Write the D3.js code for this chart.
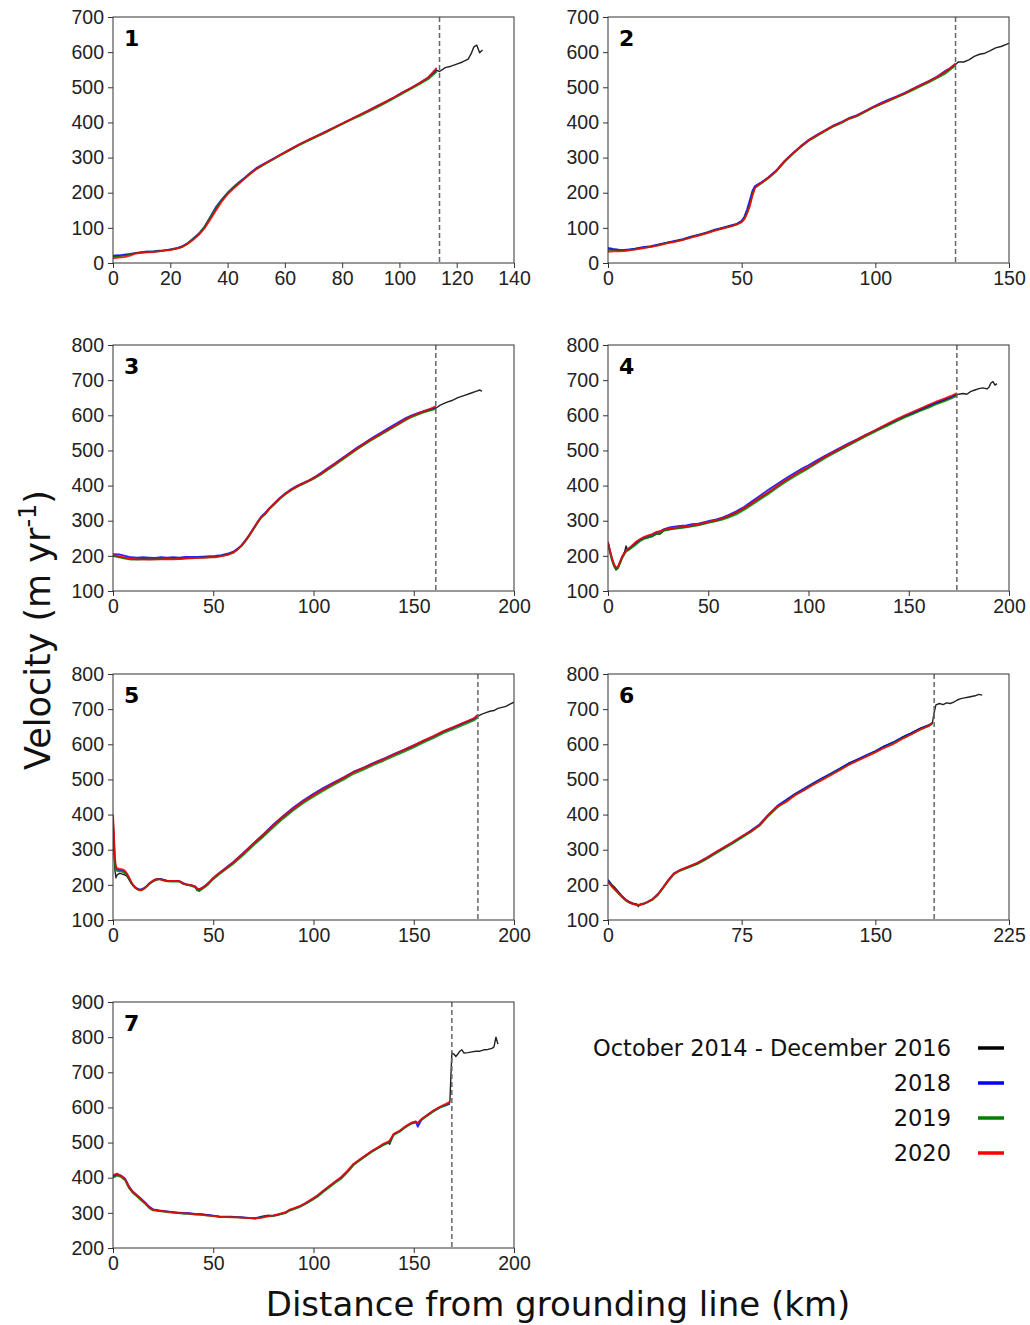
<!DOCTYPE html>
<html>
<head>
<meta charset="utf-8">
<script src="https://d3js.org/d3.v7.min.js"></script>
<style>
  body { margin: 0; background: #fff; }
  svg { font-family: "DejaVu Sans", sans-serif; }
  .tick text { font-size: 19.5px; fill: #222; }
  .tick line { stroke: #333; }
</style>
</head>
<body>
<svg id="chart" width="1030" height="1325"></svg>
<script>
// ---- data (km from grounding line, velocity m/yr) ----
var seriesNames = ["October 2014 - December 2016", "2018", "2019", "2020"];
var seriesColors = ["#222222", "#0000ff", "#008000", "#ff0000"];

var xMax = [140, 150, 200, 200, 200, 225, 200];
var xStep = [20, 50, 50, 50, 50, 75, 50];
var yDomains = [[0, 700], [0, 700], [100, 800], [100, 800], [100, 800], [100, 800], [200, 900]];
var markerKm = [114, 130, 161, 174, 182, 183, 169];

// panel 1
var km1 = [0,2,4,6,8,10,12,14,16,18,20,22,24,26,28,30,32,34,36,38,40,42,44,46,48,50,53,56,59,62,65,68,71,74,77,80,83,86,89,92,95,98,101,104,107,110,113];
var black1 = [18,20,22,25,28,30,31,32,34,36,38,41,46,55,68,82,102,128,155,178,198,214,228,242,256,268,282,296,310,323,336,348,360,371,384,396,408,420,432,445,457,470,484,497,511,526,548];
var blue1 = [21,22,24,26,29,31,33,32,35,36,39,42,47,56,70,84,104,132,160,181,200,216,230,243,257,270,284,297,311,324,338,349,361,373,385,397,409,421,433,446,458,471,485,498,512,528,552];
var green1 = [17,19,21,24,28,30,31,33,33,36,38,41,45,55,69,83,103,130,157,180,199,215,229,241,255,267,281,295,309,322,335,347,359,370,383,395,407,418,430,442,455,468,482,495,509,523,544];
var red1 = [13,15,17,21,27,29,30,31,33,35,37,40,45,54,66,80,99,124,150,175,195,211,225,240,254,267,283,296,310,324,337,350,361,372,385,397,409,421,433,446,458,471,485,498,512,527,555];
var extKm1 = [114,116,118,120,122,124,125,126,127,128,129];
var extBlack1 = [545,556,560,566,572,580,595,615,620,598,606];

// panel 2
var km2 = [0,2,4,6,8,10,13,16,19,22,25,28,31,34,37,40,43,46,48,50,51,52,53,54,55,57,60,63,66,69,72,75,78,81,84,87,90,93,96,99,102,105,108,111,114,117,120,123,126,128,130];
var black2 = [40,38,36,36,38,40,44,47,52,58,62,67,74,80,86,94,100,106,110,118,128,145,168,198,216,226,242,262,288,310,330,348,362,375,388,398,410,418,430,442,452,462,472,482,494,505,516,528,542,552,565];
var blue2 = [43,40,38,37,39,41,45,48,53,58,63,68,75,81,87,95,101,107,111,120,132,152,178,205,219,228,244,264,290,312,332,350,364,377,390,400,412,420,432,444,455,465,474,484,496,507,518,530,546,554,566];
var green2 = [37,36,35,35,37,39,43,46,51,57,61,66,73,79,85,93,99,105,109,117,127,142,165,195,214,225,241,261,287,309,329,347,361,374,387,397,409,417,429,441,451,461,471,481,492,503,514,526,538,550,562];
var red2 = [32,33,33,34,36,38,42,46,50,56,60,66,72,78,85,92,98,104,109,116,124,140,160,190,214,226,243,263,290,311,331,349,363,376,389,399,411,419,431,443,453,463,473,483,495,506,517,529,544,555,568];
var extKm2 = [131,133,135,137,139,141,143,145,147,149,150];
var extBlack2 = [572,572,578,588,594,597,604,612,616,622,625];

// panel 3
var km3 = [0,3,6,9,12,15,18,21,24,27,30,33,36,39,42,45,48,51,54,57,60,62,64,66,68,70,72,74,76,78,80,83,86,89,92,95,98,101,104,107,110,113,116,119,122,125,128,131,134,137,140,143,146,149,152,155,158,161];
var black3 = [200,197,194,190,191,192,191,191,192,192,193,192,194,195,195,196,197,198,200,204,210,218,228,242,258,276,294,310,320,334,345,362,376,388,398,406,414,424,434,446,458,470,482,494,506,517,528,538,548,558,568,578,588,597,604,610,615,620];
var blue3 = [205,204,200,196,195,196,195,194,196,195,196,195,197,197,197,198,199,200,202,206,212,220,230,244,260,278,296,312,323,336,347,364,378,390,400,408,416,426,437,449,461,473,485,497,509,520,531,542,552,562,572,582,592,600,606,612,617,622];
var green3 = [199,196,192,189,189,190,190,190,191,191,192,191,193,194,194,195,196,197,199,203,209,217,227,241,257,275,293,309,319,333,344,361,375,387,397,405,413,422,432,444,456,468,480,492,504,515,526,536,546,556,566,576,586,595,602,608,613,618];
var red3 = [203,199,195,192,190,190,189,190,190,191,190,191,192,193,194,194,196,196,199,203,209,218,229,243,259,277,295,311,321,335,346,363,377,389,399,407,415,425,435,447,459,471,483,495,507,518,529,539,549,559,569,579,589,598,605,612,618,626];
var extKm3 = [163,166,169,172,175,178,181,183,184];
var extBlack3 = [628,636,642,650,656,662,668,672,668];

// panel 4
var km4 = [0,1,2,3,4,5,6,7,8,9,10,12,14,16,18,20,22,24,26,28,30,33,36,39,42,45,48,51,54,57,60,64,68,72,76,80,84,88,92,96,100,104,108,112,116,120,124,128,132,136,140,144,148,152,156,160,164,168,171,174];
var black4 = [238,212,190,172,160,165,180,195,205,228,215,225,235,245,250,252,255,262,262,272,275,278,280,282,285,288,292,296,300,305,312,322,335,350,365,380,396,412,426,440,452,466,480,492,504,516,528,540,552,563,574,585,596,605,615,625,635,643,650,658];
var blue4 = [236,215,192,175,165,168,182,196,208,215,218,228,238,246,252,256,260,266,270,276,280,283,285,287,290,292,296,300,304,309,316,327,340,356,372,388,403,418,432,446,458,471,484,496,508,520,531,543,554,565,576,587,598,608,618,628,637,646,652,660];
var green4 = [234,208,186,170,162,166,178,192,202,212,216,224,232,242,248,252,256,262,266,272,274,277,279,281,284,287,291,295,299,303,309,318,331,346,361,376,392,408,422,436,449,463,477,490,502,514,526,538,550,561,572,583,594,603,613,622,632,640,647,655];
var red4 = [240,214,193,176,166,170,184,198,206,214,220,230,240,248,254,258,262,268,270,275,278,280,282,284,287,290,294,298,302,307,314,324,337,352,367,382,398,413,427,441,453,467,481,494,506,518,530,542,554,566,578,589,600,610,620,630,640,648,655,663];
var extKm4 = [175,177,179,181,183,185,187,189,190,191,192,193,194];
var extBlack4 = [660,662,660,668,672,676,678,675,680,692,696,686,690];

// panel 5
var km5 = [0,0.5,1,1.5,2,3,4,5,6,7,8,9,10,11,12,13,14,15,16,17,18,19,20,21,22,23,24,25,27,29,31,33,35,37,39,41,42,43,44,46,48,50,53,56,60,65,70,75,80,85,90,95,100,105,110,115,120,125,130,135,140,145,150,155,160,165,170,175,180,182];
var black5 = [395,300,240,220,228,232,232,230,228,224,215,205,198,192,188,186,186,188,192,196,202,206,210,213,215,216,216,214,211,210,210,210,203,200,198,194,186,184,188,196,206,218,232,245,262,288,315,340,368,393,415,437,455,472,488,503,520,532,545,557,570,582,595,609,622,636,648,660,672,680];
var blue5 = [380,320,262,248,244,242,242,240,236,230,220,208,200,194,190,188,187,189,193,198,204,208,212,215,217,217,217,215,212,211,211,211,205,201,199,196,190,188,190,198,208,220,234,247,265,291,318,344,372,397,420,441,459,476,491,506,522,534,547,559,572,584,597,610,623,637,649,661,673,681];
var green5 = [385,310,255,242,240,238,238,236,233,228,218,206,198,192,188,185,184,187,191,196,202,206,210,213,215,216,215,213,210,209,209,209,203,200,197,193,184,182,186,194,204,216,230,243,260,285,312,337,364,389,412,433,451,468,484,499,516,528,541,553,566,578,591,605,618,632,644,656,668,676];
var red5 = [400,340,275,252,248,246,245,244,240,232,222,210,200,193,188,185,185,187,192,197,203,208,212,215,216,216,215,213,211,211,211,211,204,200,199,195,189,188,190,197,207,220,234,246,264,290,317,343,370,395,417,438,456,473,489,505,521,533,546,558,571,584,597,611,624,638,650,662,674,684];
var extKm5 = [184,186,188,190,192,194,196,198,200];
var extBlack5 = [686,690,694,696,702,705,708,714,720];

// panel 6
var km6 = [0,2,4,6,8,10,12,14,16,17,18,20,22,25,28,31,34,37,40,45,50,55,60,65,70,75,80,85,90,95,100,105,110,115,120,125,130,135,140,145,150,155,160,165,170,175,180,182];
var black6 = [215,202,192,180,168,158,152,148,146,138,145,146,150,158,172,192,214,232,240,250,260,274,290,305,320,336,352,370,398,422,440,458,472,488,502,516,530,546,556,568,580,595,605,620,632,645,655,660];
var blue6 = [212,198,188,176,166,157,150,146,144,142,144,147,151,160,174,194,215,233,241,251,262,276,291,306,321,337,354,372,400,425,442,459,474,489,503,517,531,545,557,569,581,594,606,619,631,644,654,660];
var green6 = [210,197,186,175,164,155,149,145,144,144,143,146,150,158,171,191,212,230,239,249,259,272,288,303,318,334,350,368,396,420,438,456,470,486,500,514,528,542,554,566,578,591,603,616,628,641,652,658];
var red6 = [208,196,186,176,166,157,150,146,143,142,143,146,151,159,173,193,214,232,241,252,262,276,292,307,322,338,352,370,399,423,436,455,469,484,498,512,526,541,553,565,577,590,600,615,628,642,652,662];
var extKm6 = [183,184,186,188,190,192,194,196,198,200,202,204,206,208,210];
var extBlack6 = [690,712,716,713,718,716,720,726,730,732,734,736,738,742,740];

// panel 7
var km7 = [0,2,4,6,8,10,12,14,16,18,20,23,26,29,32,35,38,41,44,47,50,53,56,59,62,65,68,71,74,77,80,83,86,88,90,93,96,99,102,105,108,111,114,117,120,123,126,129,132,135,137,138,140,143,146,149,151,152,154,157,160,163,166,168];
var black7 = [402,408,404,395,372,358,348,338,328,315,308,306,304,302,300,298,298,296,296,294,292,288,288,289,288,287,285,283,290,293,292,296,300,308,312,318,326,336,348,362,375,388,400,418,438,450,462,474,484,494,500,495,524,532,545,555,558,556,567,578,590,600,608,614];
var blue7 = [405,410,406,398,375,360,350,340,330,318,310,307,305,303,301,300,299,297,296,294,292,290,289,289,288,287,286,286,288,291,292,296,301,307,311,318,327,338,349,363,376,389,402,419,438,451,463,475,485,495,500,504,523,533,546,556,560,545,566,579,591,600,606,610];
var green7 = [400,406,402,393,370,356,346,336,326,314,307,305,303,301,299,298,297,295,294,292,291,289,288,287,287,286,285,285,287,290,291,295,299,306,310,316,325,335,346,360,373,386,398,416,436,449,461,473,483,493,498,500,522,531,544,554,557,555,565,577,589,599,607,613];
var red7 = [408,412,405,396,374,359,349,339,329,316,309,306,304,302,300,299,298,296,295,293,291,289,288,288,287,286,285,284,286,290,293,297,302,309,313,319,328,339,350,364,377,390,403,420,440,452,464,476,486,497,502,506,525,534,547,557,560,556,568,580,592,602,610,616];
var extKm7 = [169,170,171,172,173,174,175,177,179,181,183,185,187,189,190,191,192];
var extBlack7 = [755,752,745,752,760,764,755,756,758,760,760,764,765,768,772,800,780];

var panels = [
  {km: km1, series: [black1, blue1, green1, red1], extKm: extKm1, extBlack: extBlack1},
  {km: km2, series: [black2, blue2, green2, red2], extKm: extKm2, extBlack: extBlack2},
  {km: km3, series: [black3, blue3, green3, red3], extKm: extKm3, extBlack: extBlack3},
  {km: km4, series: [black4, blue4, green4, red4], extKm: extKm4, extBlack: extBlack4},
  {km: km5, series: [black5, blue5, green5, red5], extKm: extKm5, extBlack: extBlack5},
  {km: km6, series: [black6, blue6, green6, red6], extKm: extKm6, extBlack: extBlack6},
  {km: km7, series: [black7, blue7, green7, red7], extKm: extKm7, extBlack: extBlack7}
];

// ---- layout ----
var colX = [113, 608];
var rowY = [17, 345, 674, 1002];
var pw = 401, ph = 246;

var svg = d3.select("#chart");

panels.forEach(function(p, i){
  var g = svg.append("g")
    .attr("transform", "translate(" + colX[i % 2] + "," + rowY[Math.floor(i / 2)] + ")");

  var x = d3.scaleLinear().domain([0, xMax[i]]).range([0, pw]);
  var y = d3.scaleLinear().domain(yDomains[i]).range([ph, 0]);

  var xAxis = d3.axisBottom(x).tickValues(d3.range(0, xMax[i] + 1, xStep[i]))
    .tickSize(5).tickPadding(3);
  var yAxis = d3.axisLeft(y).tickValues(d3.range(yDomains[i][0], yDomains[i][1] + 1, 100))
    .tickSize(5).tickPadding(4);

  g.append("g").attr("transform", "translate(0," + ph + ")").call(xAxis)
    .call(function(a){ a.select(".domain").remove(); });
  g.append("g").call(yAxis)
    .call(function(a){ a.select(".domain").remove(); });

  g.append("clipPath").attr("id", "clip" + i)
    .append("rect").attr("width", pw).attr("height", ph);

  var line = d3.line()
    .x(function(d){ return x(d[0]); })
    .y(function(d){ return y(d[1]); });

  var plot = g.append("g").attr("clip-path", "url(#clip" + i + ")");

  p.series.forEach(function(vals, s){
    var pts = p.km.map(function(k, j){ return [k, vals[j]]; });
    if (s === 0) {
      pts = pts.concat(p.extKm.map(function(k, j){ return [k, p.extBlack[j]]; }));
    }
    plot.append("path")
      .datum(pts)
      .attr("d", line)
      .attr("fill", "none")
      .attr("stroke", seriesColors[s])
      .attr("stroke-width", s === 0 ? 1.4 : 1.8)
      .attr("stroke-linejoin", "round")
      .attr("opacity", s === 0 ? 1 : 0.85);
  });

  g.append("line")
    .attr("x1", x(markerKm[i])).attr("x2", x(markerKm[i]))
    .attr("y1", 0).attr("y2", ph)
    .attr("stroke", "#666").attr("stroke-width", 1.5)
    .attr("stroke-dasharray", "5,3");

  g.append("rect")
    .attr("width", pw).attr("height", ph)
    .attr("fill", "none").attr("stroke", "#333").attr("stroke-width", 1);

  g.append("text")
    .attr("x", 11).attr("y", 29)
    .attr("font-size", 22).attr("font-weight", "bold")
    .text(i + 1);
});

// axis titles
var yTitle = svg.append("text")
  .attr("transform", "translate(50,630) rotate(-90)")
  .attr("text-anchor", "middle")
  .attr("font-size", 35)
  .attr("fill", "#111");
yTitle.append("tspan").text("Velocity (m yr");
yTitle.append("tspan").attr("baseline-shift", "super").attr("font-size", 24).text("-1");
yTitle.append("tspan").text(")");

svg.append("text")
  .attr("x", 558).attr("y", 1316)
  .attr("text-anchor", "middle")
  .attr("font-size", 34)
  .attr("fill", "#111")
  .text("Distance from grounding line (km)");

// legend
var legend = svg.append("g");
seriesNames.forEach(function(name, s){
  var ly = 1048 + s * 35;
  legend.append("text")
    .attr("x", 951).attr("y", ly + 8)
    .attr("text-anchor", "end")
    .attr("font-size", 22.5)
    .attr("fill", "#111")
    .text(name);
  legend.append("line")
    .attr("x1", 978).attr("x2", 1004)
    .attr("y1", ly).attr("y2", ly)
    .attr("stroke", seriesColors[s] === "#222222" ? "#000" : seriesColors[s])
    .attr("stroke-width", 3.5);
});
</script>
</body>
</html>
